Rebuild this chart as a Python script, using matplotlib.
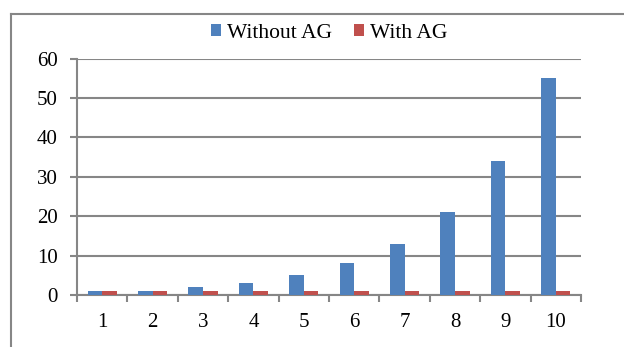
import matplotlib
matplotlib.use("Agg")
import matplotlib.pyplot as plt
from matplotlib.lines import Line2D
import numpy as np

categories = ["1", "2", "3", "4", "5", "6", "7", "8", "9", "10"]
without_ag = [1, 1, 2, 3, 5, 8, 13, 21, 34, 55]
with_ag = [1, 1, 1, 1, 1, 1, 1, 1, 1, 1]
yticks = [0, 10, 20, 30, 40, 50, 60]

plt.rcParams['font.family'] = ['Liberation Serif', 'DejaVu Serif']
BLUE = '#4F81BD'
RED = '#C0504D'
GRAY = '#868686'

fig = plt.figure(figsize=(6.24, 3.47), dpi=100)
ax = fig.add_axes([77/624, 1-295/347, (581-77)/624, (295-58.7)/347])

x = np.arange(len(categories))
w = 0.29
ax.bar(x - w/2, without_ag, w, color=BLUE, label='Without AG', zorder=3)
ax.bar(x + w/2, with_ag, w, color=RED, label='With AG', zorder=3)

ax.set_xlim(-0.5, len(categories) - 0.5)
ax.set_ylim(0, 60)
ax.set_yticks(yticks)
ax.set_yticklabels([str(v) for v in yticks])
ax.yaxis.grid(True, color=GRAY, linewidth=1.5, zorder=0)
ax.set_axisbelow(True)

ax.set_xticks(np.arange(-0.5, len(categories)), minor=False)
ax.set_xticklabels([''] * (len(categories) + 1))
ax.set_xticks(x, minor=True)
ax.set_xticklabels(categories, minor=True)
ax.tick_params(axis='x', which='major', length=5, width=1.5, color=GRAY, direction='out')
ax.tick_params(axis='x', which='minor', length=0, pad=13, labelsize=15)
ax.tick_params(axis='y', length=5, width=1.5, color=GRAY, pad=9, labelsize=15)

for s in ['top', 'right']:
    ax.spines[s].set_visible(False)
for s in ['left', 'bottom']:
    ax.spines[s].set_color(GRAY)
    ax.spines[s].set_linewidth(1.5)

fig.legend(loc='center', bbox_to_anchor=(329/624, 1-33/347), ncol=2, frameon=False,
           fontsize=15.5, handlelength=0.47, handleheight=0.47, handletextpad=0.28,
           columnspacing=1.0)

# outer frame (left and top edges visible)
fig.add_artist(Line2D([11/624, 11/624], [0, 1-14/347], transform=fig.transFigure, color=GRAY, linewidth=1.5))
fig.add_artist(Line2D([11/624, 1], [1-14/347, 1-14/347], transform=fig.transFigure, color=GRAY, linewidth=1.5))

fig.savefig('out.png', dpi=100)
